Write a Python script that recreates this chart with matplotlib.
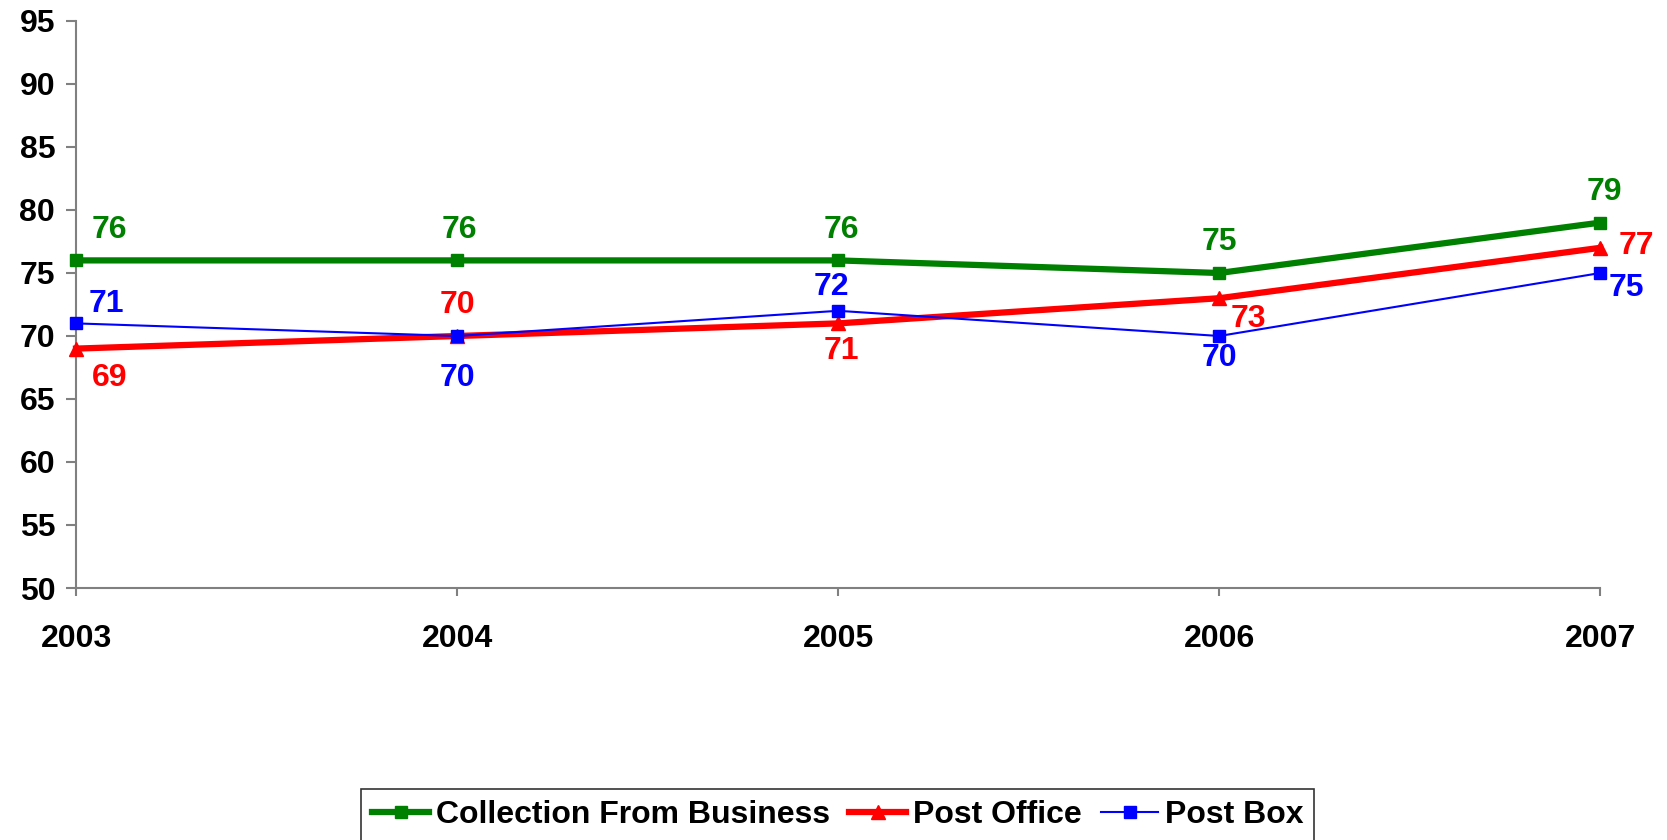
import matplotlib.pyplot as plt

plt.rcParams['font.family'] = ['Liberation Sans', 'DejaVu Sans']
plt.rcParams['font.weight'] = 'bold'

years = [2003, 2004, 2005, 2006, 2007]
business = [76, 76, 76, 75, 79]
post_office = [69, 70, 71, 73, 77]
post_box = [71, 70, 72, 70, 75]

# label offsets in points for each series
business_off = [(24, 22), (2, 22), (2, 22), (0, 22), (3, 22)]
office_off = [(24, -21), (0, 22), (2, -20), (21, -15), (26, 1)]
box_off = [(22, 14), (0, -30), (-5, 17), (0, -16), (19, -11)]

fig = plt.figure(figsize=(16.67, 8.4), dpi=100)
ax = fig.add_axes([0.0456, 0.30, 0.9144, 0.675])

ax.plot(years, business, color='#008000', lw=4.5, marker='s', ms=8,
        label='Collection From Business', clip_on=False, zorder=3)
ax.plot(years, post_office, color='#ff0000', lw=4.5, marker='^', ms=10,
        label='Post Office', clip_on=False, zorder=3)
ax.plot(years, post_box, color='#0000ff', lw=1.5, marker='s', ms=8,
        label='Post Box', clip_on=False, zorder=3)

for vals, offs, col in [(business, business_off, '#008000'),
                        (post_office, office_off, '#ff0000'),
                        (post_box, box_off, '#0000ff')]:
    for x, y, off in zip(years, vals, offs):
        ax.annotate(str(y), (x, y), xytext=off, textcoords='offset points',
                    ha='center', va='center', color=col, fontsize=23,
                    fontweight='bold')

ax.set_xlim(2003, 2007)
ax.set_ylim(50, 95)
ax.set_xticks(years)
ax.set_yticks(range(50, 96, 5))
for s in ['top', 'right']:
    ax.spines[s].set_visible(False)
for s in ['left', 'bottom']:
    ax.spines[s].set_color('#808080')
    ax.spines[s].set_linewidth(1.5)
ax.tick_params(axis='y', colors='#808080', length=7, width=1.5, pad=8,
               labelcolor='black', labelsize=23)
ax.tick_params(axis='x', colors='#808080', length=6, width=1.5, pad=20,
               labelcolor='black', labelsize=23)

leg = fig.legend(loc='upper center', bbox_to_anchor=(0.5024, 0.0607), ncol=3,
                 fancybox=False, edgecolor='black', fontsize=23,
                 handlelength=1.8, columnspacing=0.6, handletextpad=0.2,
                 borderaxespad=0, borderpad=0.35)
leg.get_frame().set_linewidth(1.2)

fig.savefig('out.png', dpi=100)
